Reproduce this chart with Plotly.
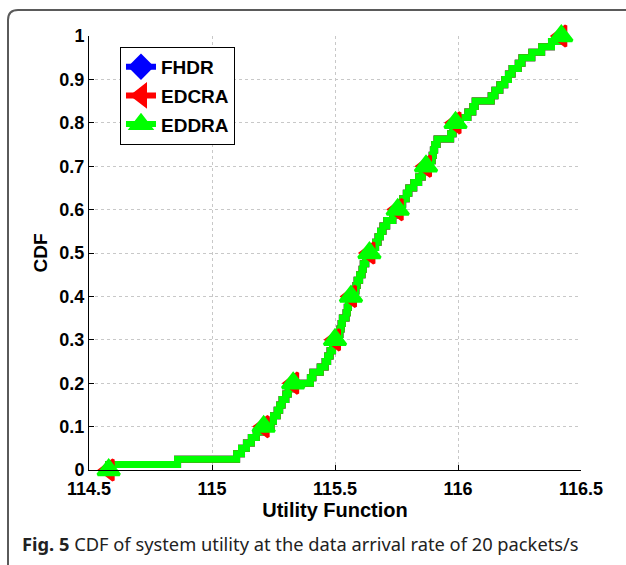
import plotly.graph_objects as go

# Utility values at which each empirical CDF steps up (80 samples, sorted)
utility_samples = [
    114.58, 114.86, 115.10, 115.12, 115.14, 115.16, 115.18, 115.21,
    115.24, 115.25, 115.265, 115.275, 115.285, 115.30, 115.31, 115.33,
    115.40, 115.41, 115.44, 115.46, 115.47, 115.48, 115.49, 115.50,
    115.51, 115.52, 115.525, 115.53, 115.545, 115.55, 115.555, 115.565,
    115.575, 115.585, 115.59, 115.60, 115.61, 115.615, 115.625, 115.64,
    115.655, 115.665, 115.675, 115.685, 115.695, 115.71, 115.735, 115.755,
    115.765, 115.775, 115.79, 115.80, 115.82, 115.84, 115.855, 115.87,
    115.885, 115.895, 115.90, 115.905, 115.915, 115.97, 115.98, 115.99,
    116.01, 116.04, 116.06, 116.07, 116.135, 116.15, 116.17, 116.19,
    116.205, 116.22, 116.245, 116.26, 116.30, 116.34, 116.38, 116.42,
]

series_names = ["FHDR", "EDCRA", "EDDRA"]
series_samples = {
    "FHDR": list(utility_samples),
    "EDCRA": list(utility_samples),
    "EDDRA": list(utility_samples),
}
series_colors = {"FHDR": "#0000ff", "EDCRA": "#ff0000", "EDDRA": "#00ff00"}
series_symbols = {"FHDR": "diamond", "EDCRA": "triangle-left", "EDDRA": "triangle-up"}
series_marker_size = {"FHDR": 8, "EDCRA": 18, "EDDRA": 19}
series_marker_edge = {"FHDR": 2, "EDCRA": 3, "EDDRA": 3}

# Indices (in the plotted curve) that carry a marker
marker_index = [0, 8, 16, 24, 32, 40, 48, 56, 64, 80]

x_ticks = [114.5, 115, 115.5, 116, 116.5]
x_tick_text = ["114.5", "115", "115.5", "116", "116.5"]
y_ticks = [0, 0.1, 0.2, 0.3, 0.4, 0.5, 0.6, 0.7, 0.8, 0.9, 1.0]
y_tick_text = ["0", "0.1", "0.2", "0.3", "0.4", "0.5", "0.6", "0.7", "0.8", "0.9", "1"]

fig = go.Figure()

# Curves first, then marker layers on top of all curves
curves = {}
for name in series_names:
    s = sorted(series_samples[name])
    n = len(s)
    xs = [s[0]] + s
    ys = [0.0] + [(k + 1) / n for k in range(n)]
    curves[name] = (xs, ys)
    fig.add_trace(go.Scatter(
        x=xs, y=ys, mode="lines", line=dict(color=series_colors[name], width=7, shape="hv"),
        showlegend=False, hoverinfo="skip",
    ))

for name in series_names:
    xs, ys = curves[name]
    color = series_colors[name]
    fig.add_trace(go.Scatter(
        x=[xs[i] for i in marker_index], y=[ys[i] for i in marker_index],
        mode="markers", cliponaxis=False, showlegend=False,
        marker=dict(symbol=series_symbols[name], size=series_marker_size[name],
                    color=color, line=dict(color=color, width=series_marker_edge[name])),
    ))

# Legend entries
for name in series_names:
    color = series_colors[name]
    fig.add_trace(go.Scatter(
        x=[None], y=[None], mode="lines+markers", name=name, legendgroup=name,
        line=dict(color=color, width=6),
        marker=dict(symbol=series_symbols[name], size=16, color=color,
                    line=dict(color=color, width=4)),
    ))

bold_font = dict(family="Liberation Sans, Arial, sans-serif", size=18, color="#000000", weight="bold")

fig.update_layout(
    width=626, height=565,
    margin=dict(l=89, r=45, t=36, b=95),
    paper_bgcolor="white", plot_bgcolor="white",
    showlegend=True,
    legend=dict(
        x=0.063, y=0.975, xanchor="left", yanchor="top",
        bordercolor="#000000", borderwidth=1, bgcolor="white",
        font=dict(bold_font, size=19),
        traceorder="grouped", tracegroupgap=1, itemwidth=30,
    ),
    xaxis=dict(
        range=[114.5, 116.5], tickvals=x_ticks, ticktext=x_tick_text,
        showline=True, linecolor="#000000", linewidth=1, mirror=False,
        ticks="inside", ticklen=5, tickcolor="#000000",
        showgrid=True, gridcolor="#c8c8c8", griddash="dot", gridwidth=1,
        zeroline=False, tickfont=bold_font, ticklabelstandoff=2,
        title=dict(text="Utility Function", standoff=2, font=dict(bold_font, size=20)),
    ),
    yaxis=dict(
        range=[0, 1], tickvals=y_ticks, ticktext=y_tick_text,
        showline=True, linecolor="#000000", linewidth=1, mirror=False,
        ticks="inside", ticklen=5, tickcolor="#000000",
        showgrid=True, gridcolor="#c8c8c8", griddash="dot", gridwidth=1,
        zeroline=False, tickfont=bold_font,
        title=dict(text="CDF", standoff=6, font=dict(bold_font, size=19)),
    ),
)

# Page frame with a rounded top-left corner (paper coordinates)
left_x = (8 - 89) / 492
top_y = (470 - 10) / 434
r_x = 10 / 492
r_y = 10 / 434
bottom_y = (470 - 570) / 434
right_x = (630 - 89) / 492
fig.add_shape(
    type="path", xref="paper", yref="paper",
    path=(f"M {left_x},{bottom_y} L {left_x},{top_y - r_y} "
          f"Q {left_x},{top_y} {left_x + r_x},{top_y} L {right_x},{top_y}"),
    line=dict(color="#5a5a5a", width=2), layer="above",
)

fig.add_annotation(
    xref="paper", yref="paper",
    x=(20 - 89) / 492, y=(470 - 543) / 434, xanchor="left", yanchor="middle",
    text="<b>Fig. 5</b> CDF of system utility at the data arrival rate of 20 packets/s",
    showarrow=False,
    font=dict(family="Noto Sans, Open Sans, sans-serif", size=18.3, color="#222222"),
)

fig.write_html("out.html")
